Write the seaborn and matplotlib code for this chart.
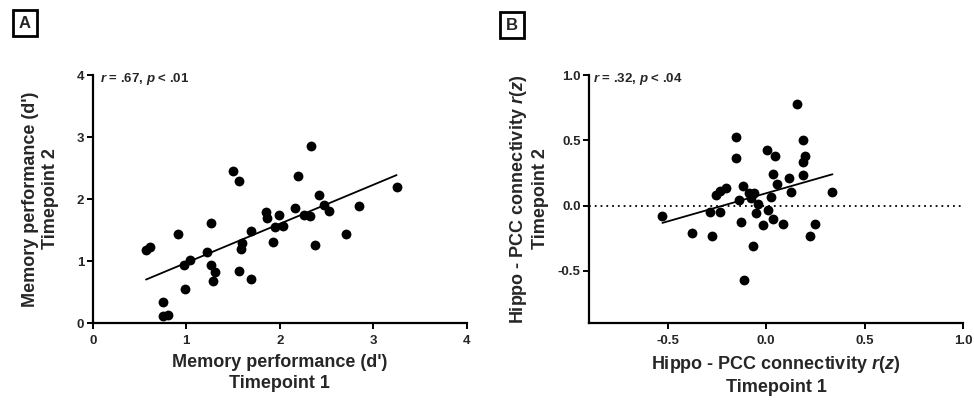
import matplotlib
matplotlib.use("Agg")
import matplotlib.pyplot as plt
import seaborn as sns
import numpy as np
import pandas as pd

# Panel A: memory performance (d')
mem_t1 = [0.57, 0.61, 0.91, 0.75, 0.75, 0.80, 0.99, 0.98, 1.04, 1.22, 1.26, 1.31, 1.29,
          1.27, 1.50, 1.56, 1.56, 1.60, 1.59, 1.69, 1.69, 1.85, 1.86, 1.93, 1.95, 1.99,
          2.03, 2.16, 2.20, 2.26, 2.32, 2.34, 2.38, 2.42, 2.47, 2.53, 2.71, 2.85, 3.25]
mem_t2 = [1.17, 1.22, 1.44, 0.34, 0.11, 0.13, 0.55, 0.94, 1.02, 1.14, 0.93, 0.83, 0.67,
          1.61, 2.45, 2.29, 0.84, 1.29, 1.20, 1.49, 0.71, 1.79, 1.69, 1.30, 1.55, 1.74,
          1.57, 1.85, 2.37, 1.75, 1.73, 2.86, 1.26, 2.06, 1.90, 1.81, 1.44, 1.88, 2.20]

# Panel B: Hippo - PCC connectivity r(z)
conn_t1 = [-0.527, -0.378, -0.277, -0.286, -0.235, -0.257, -0.233, -0.204, -0.155, -0.155,
           -0.136, -0.126, -0.116, -0.112, -0.088, -0.077, -0.066, -0.063, -0.054, -0.041,
           -0.014, 0.005, 0.007, 0.024, 0.037, 0.037, 0.046, 0.056, 0.087, 0.114, 0.128,
           0.156, 0.185, 0.187, 0.197, 0.185, 0.224, 0.248, 0.337]
conn_t2 = [-0.079, -0.21, -0.23, -0.051, -0.051, 0.082, 0.113, 0.133, 0.524, 0.366,
           0.046, -0.13, 0.151, -0.570, 0.095, 0.056, -0.312, 0.095, -0.059, 0.013,
           -0.146, 0.422, -0.038, 0.064, 0.243, -0.10, 0.376, 0.164, -0.138, 0.212, 0.102,
           0.777, 0.504, 0.330, 0.376, 0.233, -0.23, -0.138, 0.102]

ticks_a = [0, 1, 2, 3, 4]
ticks_b = [-0.5, 0.0, 0.5, 1.0]
stat_a = r"$r$ = .67, $p$ < .01"
stat_b = r"$r$ = .32, $p$ < .04"

sns.set_style("ticks")
plt.rcParams["font.family"] = ["Liberation Sans", "DejaVu Sans"]
plt.rcParams["font.weight"] = "bold"
plt.rcParams["mathtext.fontset"] = "custom"
plt.rcParams["mathtext.it"] = "Liberation Sans:italic:bold"
plt.rcParams["mathtext.rm"] = "Liberation Sans:bold"
plt.rcParams["mathtext.bf"] = "Liberation Sans:bold"

fig = plt.figure(figsize=(9.74, 4.01), dpi=100)
W, H = 974, 401
axA = fig.add_axes([92.7 / W, 1 - 323 / H, 374 / W, 248 / H])
axB = fig.add_axes([589 / W, 1 - 323 / H, 374 / W, 248 / H])

dfA = pd.DataFrame({"t1": mem_t1, "t2": mem_t2})
dfB = pd.DataFrame({"t1": conn_t1, "t2": conn_t2})

sk = dict(s=50, color="black", linewidths=0, alpha=1)
lk = dict(color="black", lw=1.3)

for ax, df in ((axA, dfA), (axB, dfB)):
    sns.regplot(data=df, x="t1", y="t2", ax=ax, ci=None, truncate=True,
                scatter_kws=sk, line_kws=lk)

axB.axhline(0, color="black", ls=(0, (1, 2.2)), lw=1.3, zorder=0)

axA.set_xlim(0, 4)
axA.set_ylim(0, 4)
axA.set_xticks(ticks_a)
axA.set_yticks(ticks_a)
axB.set_xlim(-0.9, 1.0)
axB.set_ylim(-0.9, 1.0)
axB.set_xticks(ticks_b)
axB.set_yticks(ticks_b)
axB.set_xticklabels([f"{t:.1f}" for t in ticks_b])
axB.set_yticklabels([f"{t:.1f}" for t in ticks_b])

conn_lab = "Hippo - PCC connectivity $\\mathit{r}$($\\mathit{z}$)"
axA.set_xlabel("Memory performance (d')\nTimepoint 1", fontsize=13, fontweight="bold",
               labelpad=5, linespacing=1.25)
axA.set_ylabel("Memory performance (d')\nTimepoint 2", fontsize=13, fontweight="bold",
               labelpad=13, linespacing=1.25)
axB.set_xlabel(conn_lab + "\nTimepoint 1", fontsize=13, fontweight="bold",
               labelpad=5, linespacing=1.25)
axB.set_ylabel(conn_lab + "\nTimepoint 2", fontsize=13, fontweight="bold",
               labelpad=6, linespacing=1.25)

for ax in (axA, axB):
    sns.despine(ax=ax)
    for s in ("left", "bottom"):
        ax.spines[s].set_linewidth(1.6)
        ax.spines[s].set_color("black")
    ax.tick_params(axis="both", direction="out", length=4, width=1.4, color="black",
                   labelsize=9.5)
    ax.tick_params(axis="x", pad=5)
    ax.tick_params(axis="y", pad=2)
    for lab in ax.get_xticklabels() + ax.get_yticklabels():
        lab.set_fontweight("bold")

axA.text(0.02, 0.985, stat_a, transform=axA.transAxes, fontsize=9.5, fontweight="bold",
         va="center", ha="left")
axB.text(0.012, 0.985, stat_b, transform=axB.transAxes, fontsize=9.5, fontweight="bold",
         va="center", ha="left")

box = dict(boxstyle="square,pad=0.35", fc="white", ec="black", lw=2)
fig.text(25 / W, 1 - 23 / H, "A", fontsize=12, fontweight="bold", ha="center", va="center", bbox=box)
fig.text(512 / W, 1 - 25 / H, "B", fontsize=12, fontweight="bold", ha="center", va="center", bbox=box)

fig.savefig("out.png", dpi=100)
